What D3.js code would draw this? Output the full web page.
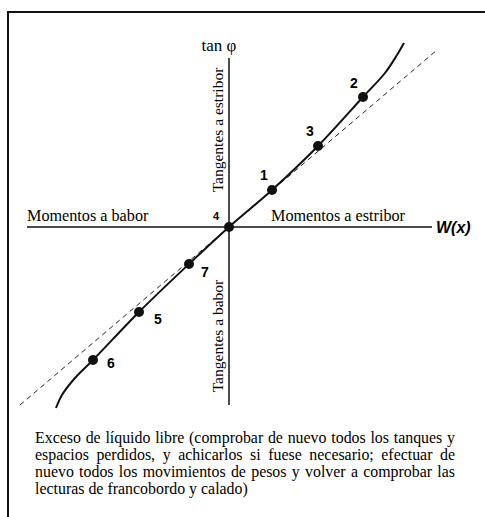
<!DOCTYPE html>
<html><head><meta charset="utf-8">
<script src="https://cdn.jsdelivr.net/npm/d3@7"></script>
<style>body{margin:0;background:#fff}svg{display:block}</style>
</head><body>
<svg id="c" width="485" height="517"></svg>
<script>
// Data (arbitrary units: W(x) on x, tan φ on y)
const pointIds = ["1","2","3","4","5","6","7"];
const pointX = [4.3, 13.4, 8.9, 0, -9.0, -13.6, -4.0];
const pointY = [3.7, 13.0, 8.1, 0, -8.5, -13.3, -3.7];
const curveX = [-17.3, -16.7, -15.4, -13.6, -9.0, -4.0, 0, 4.3, 8.9, 13.4, 15.6, 16.8, 17.5];
const curveY = [-18.1, -16.8, -15.1, -13.3, -8.5, -3.7, 0, 3.7, 8.1, 13.0, 15.4, 17.2, 18.4];
const dashX = [-20.9, 20.8];
const dashY = [-17.8, 17.7];
const axisXRange = [-20.2, 20.3];
const axisYRange = [-17.8, 16.9];
const captionLines = [
  "Exceso de líquido libre (comprobar de nuevo todos los tanques y",
  "espacios perdidos, y achicarlos si fuese necesario; efectuar de",
  "nuevo todos los movimientos de pesos y volver a comprobar las",
  "lecturas de francobordo y calado)"
];

const svg = d3.select("#c");
const x = d3.scaleLinear().domain([-20, 20]).range([29, 429]);
const y = d3.scaleLinear().domain([-20, 20]).range([427, 27]);
const serif = "'Liberation Serif','Times New Roman',serif";
const sans = "'Liberation Sans',Arial,sans-serif";

// frame (top and left only)
svg.append("path").attr("d", "M8,517 L8,12 L485,12")
  .attr("fill", "none").attr("stroke", "#111").attr("stroke-width", 2);

// axes
svg.append("line").attr("x1", x(axisXRange[0])).attr("x2", x(axisXRange[1]))
  .attr("y1", y(0)).attr("y2", y(0)).attr("stroke", "#111").attr("stroke-width", 1.5);
svg.append("line").attr("x1", x(0)).attr("x2", x(0))
  .attr("y1", y(axisYRange[1])).attr("y2", y(axisYRange[0])).attr("stroke", "#111").attr("stroke-width", 1.5);

// dashed reference line
svg.append("line").attr("x1", x(dashX[0])).attr("y1", y(dashY[0]))
  .attr("x2", x(dashX[1])).attr("y2", y(dashY[1]))
  .attr("stroke", "#222").attr("stroke-width", 1).attr("stroke-dasharray", "5,4");

// curve
const curvePts = curveX.map((v, i) => [v, curveY[i]]);
svg.append("path").datum(curvePts)
  .attr("d", d3.line().x(d => x(d[0])).y(d => y(d[1])).curve(d3.curveCatmullRom))
  .attr("fill", "none").attr("stroke", "#111").attr("stroke-width", 2);

// points
const pts = pointIds.map((id, i) => ({id, x: pointX[i], y: pointY[i]}));
svg.selectAll("circle.p").data(pts).join("circle")
  .attr("cx", d => x(d.x)).attr("cy", d => y(d.y)).attr("r", 5).attr("fill", "#111");

// point labels
const labelOff = {"1": [-8, -15], "2": [-9, -14], "3": [-8, -15], "4": [-13, -11], "5": [19, 7], "6": [18, 3], "7": [16, 8]};
svg.selectAll("text.pl").data(pts).join("text")
  .attr("x", d => x(d.x) + labelOff[d.id][0]).attr("y", d => y(d.y) + labelOff[d.id][1])
  .attr("text-anchor", "middle").attr("dominant-baseline", "central")
  .attr("font-family", sans).attr("font-weight", "bold")
  .attr("font-size", d => d.id === "4" ? 11 : 14).text(d => d.id);

// axis texts
svg.append("text").attr("x", 219).attr("y", 51).attr("text-anchor", "middle")
  .attr("font-family", serif).attr("font-size", 17).text("tan φ");
svg.append("text").attr("transform", "translate(223,130) rotate(-90)").attr("text-anchor", "middle")
  .attr("font-family", serif).attr("font-size", 15.5).text("Tangentes a estribor");
svg.append("text").attr("transform", "translate(223,336) rotate(-90)").attr("text-anchor", "middle")
  .attr("font-family", serif).attr("font-size", 15.5).text("Tangentes a babor");
svg.append("text").attr("x", 27).attr("y", 221)
  .attr("font-family", serif).attr("font-size", 16.2).text("Momentos a babor");
svg.append("text").attr("x", 271).attr("y", 221)
  .attr("font-family", serif).attr("font-size", 16.2).text("Momentos a estribor");
svg.append("text").attr("x", 436).attr("y", 233)
  .attr("font-family", sans).attr("font-style", "italic").attr("font-weight", "bold")
  .attr("font-size", 16).text("W(x)");

// caption, justified
const capLeft = 35, capRight = 455, capTop = 443, capStep = 17;
captionLines.forEach((line, li) => {
  const words = line.split(" ");
  const g = svg.append("g");
  const ts = words.map(w => g.append("text").attr("font-family", serif).attr("font-size", 15.9)
    .attr("y", capTop + li * capStep).text(w));
  const widths = ts.map(t => t.node().getComputedTextLength());
  const total = d3.sum(widths);
  const last = li === captionLines.length - 1;
  const gap = last ? 4 : Math.max(2, (capRight - capLeft - total) / (words.length - 1));
  let cx = capLeft;
  ts.forEach((t, i) => { t.attr("x", cx); cx += widths[i] + gap; });
});
</script>
</body></html>
